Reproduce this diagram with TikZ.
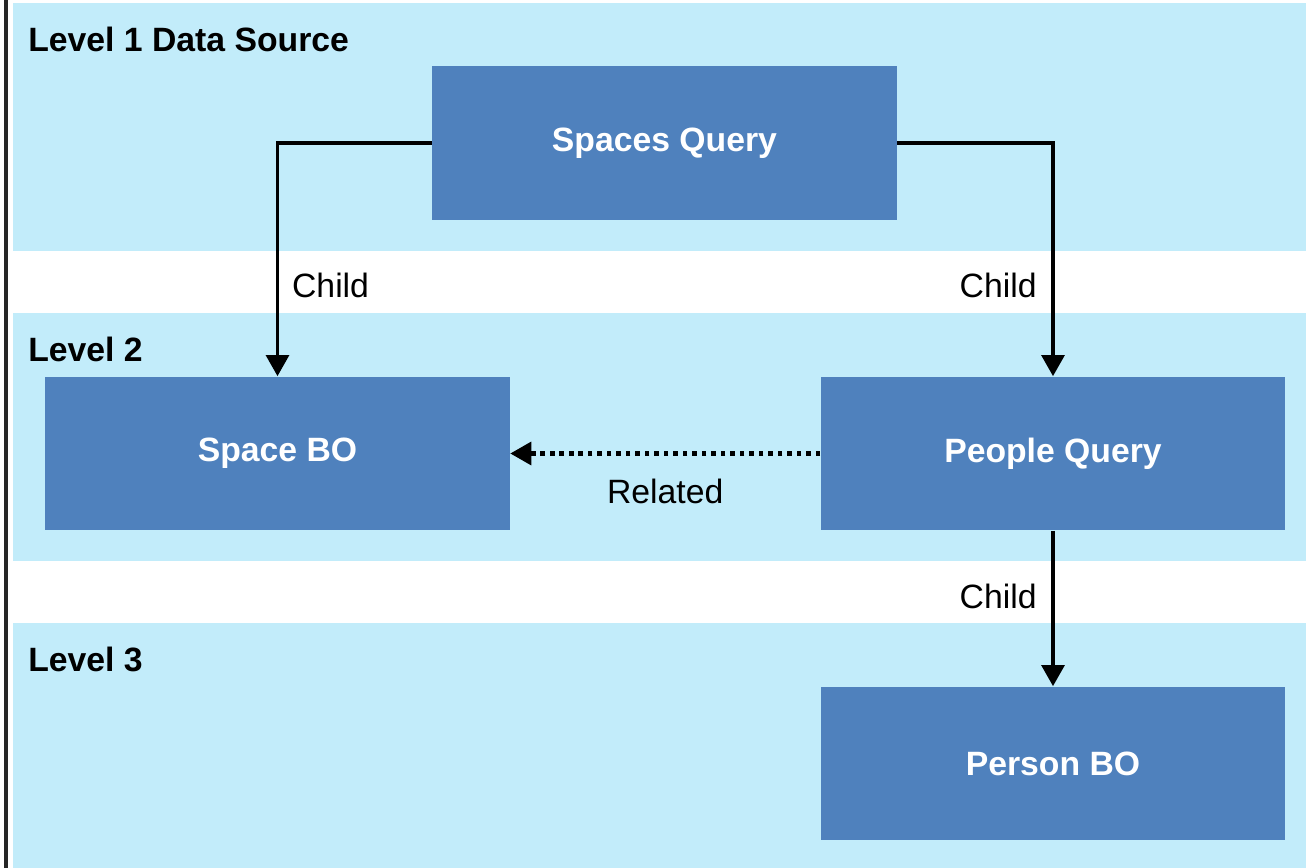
\documentclass[tikz,border=0pt]{standalone}
\usepackage{fontspec}
\setmainfont{Liberation Sans}
\usetikzlibrary{arrows.meta}
\definecolor{bandblue}{RGB}{194,236,250}
\definecolor{boxblue}{RGB}{79,129,189}

\begin{document}
\begin{tikzpicture}[x=0.02cm, y=-0.02cm,
        txt/.style={font=\fontsize{19.2}{23}\selectfont},
        level/.style={txt, font=\fontsize{19.2}{23}\selectfont\bfseries, anchor=west, inner sep=0pt},
        qbox/.style={txt, font=\fontsize{19.2}{23}\selectfont\bfseries, fill=boxblue, text=white, minimum width=9.3cm, minimum height=3.08cm},
        arr/.style={line width=2pt, -{Triangle[width=13pt,length=12pt]}}]
            \useasboundingbox (0,0) rectangle (1306,868);
            \foreach \y/\h in {3/248,313/248,623/245}{
                \fill[bandblue] (13,\y) rectangle (1306,\y+\h);
            }
            \draw[line width=2pt, black!85] (6,0) -- (6,868);

            \node[level] (lev1) at (28,39) {Level 1 Data Source};
            \node[level] (lev2) at (28,349) {Level 2};
            \node[level] (lev3) at (28,659) {Level 3};

            \node[qbox] (spq) at (664.5,143) {Spaces Query};
            \node[qbox] (sbo) at (277.5,453.5) {Space BO};
            \node[qbox] (ppq) at (1053,453.5) {People Query};
            \node[qbox] (pbo) at (1053,763.5) {Person BO};

            \draw[arr] (spq.west) -| (sbo.north) node[txt, pos=.805, right=4pt] (c1) {Child};
            \draw[arr] (spq.east) -| (ppq.north) node[txt, pos=.805, left=5pt] (c2) {Child};
            \draw[arr] (ppq.south) -- (pbo.north) node[txt, pos=.42, left=5pt] (c3) {Child};
            \draw[arr, dash pattern=on 2.6pt off 2.8pt, line width=2.3pt] (ppq.west) -- (sbo.east) node[txt, midway, below=10pt] (rel) {Related};
        \end{tikzpicture}
\end{document}
